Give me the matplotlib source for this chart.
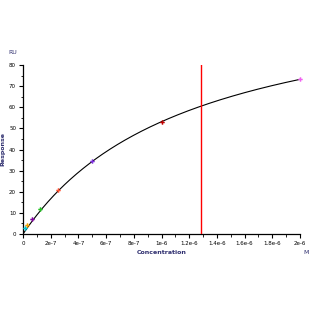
import matplotlib
matplotlib.use("Agg")
import matplotlib.pyplot as plt
import numpy as np
from matplotlib.ticker import MultipleLocator

conc = [1.56e-8, 3.125e-8, 6.25e-8, 1.25e-7, 2.5e-7, 5e-7, 1e-6, 2e-6]
resp = [3.0, 4.3, 7.0, 12.0, 21.0, 34.5, 53.0, 73.5]
colors = ["#00c8d8", "#f0a000", "#8000a0", "#20c020", "#ff5030", "#8030e0", "#c00000", "#f060f0"]
rmax = 117.5
kd = 1.21e-6
kd_line = 1.285e-6
xticks = [0, 2e-7, 4e-7, 6e-7, 8e-7, 1e-6, 1.2e-6, 1.4e-6, 1.6e-6, 1.8e-6, 2e-6]
xticklabels = ["0", "2e-7", "4e-7", "6e-7", "8e-7", "1e-6", "1.2e-6", "1.4e-6", "1.6e-6", "1.8e-6", "2e-6"]

fig = plt.figure(figsize=(3.1, 3.1), dpi=100)
ax = fig.add_axes([23/310, 1-234/310, 277/310, 169/310])

xc = np.linspace(0, 2e-6, 300)
ax.plot(xc, rmax * xc / (kd + xc), color="black", lw=0.8, zorder=2)
for c, r, col in zip(conc, resp, colors):
    ax.plot(c, r, marker="P", color=col, ms=3.2, mew=0, zorder=3, clip_on=False)
ax.plot([kd_line, kd_line], [0, 80], color="#ff0000", lw=1.0, zorder=4)

ax.set_xlim(0, 2e-6)
ax.set_ylim(0, 80)
ax.set_xticks(xticks)
ax.set_xticklabels(xticklabels)
ax.xaxis.set_minor_locator(MultipleLocator(1e-7))
ax.yaxis.set_major_locator(MultipleLocator(10))
ax.yaxis.set_minor_locator(MultipleLocator(5))
for s in ["top", "right"]:
    ax.spines[s].set_visible(False)
for s in ["left", "bottom"]:
    ax.spines[s].set_linewidth(0.9)
ax.tick_params(which="major", length=3, width=0.8, labelsize=4, pad=2)
ax.tick_params(which="minor", length=1.8, width=0.6)
ax.set_xlabel("Concentration", fontsize=4.5, fontweight="bold", color="#303070", labelpad=3)
ax.set_ylabel("Response", fontsize=4.5, fontweight="bold", color="#303070", labelpad=3)
fig.text(8/310, 1-53/310, "RU", fontsize=4.5, color="#303070", va="center")
fig.text(303/310, 1-252/310, "M", fontsize=4.5, color="#303070", va="center")
fig.savefig("out.png", dpi=100)
